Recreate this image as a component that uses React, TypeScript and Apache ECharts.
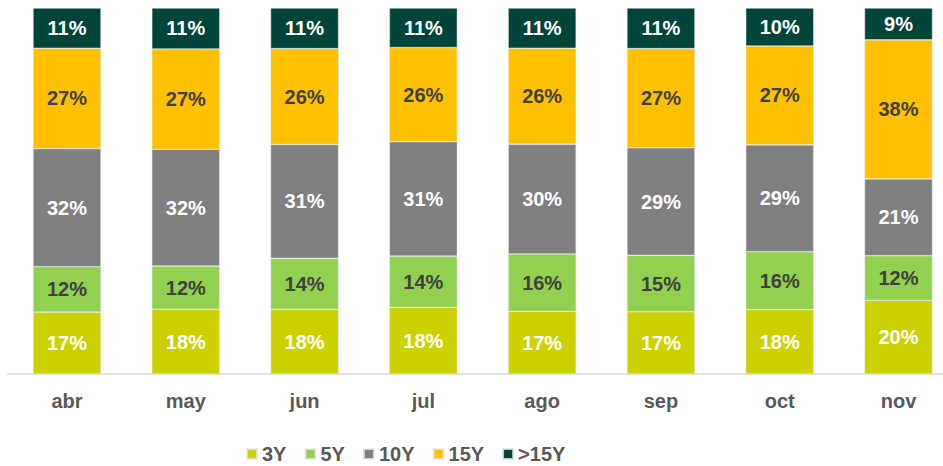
import React, { useEffect, useRef } from "react";
import * as echarts from "echarts";

const categories = ["abr", "may", "jun", "jul", "ago", "sep", "oct", "nov"];
const seriesNames = ["3Y", "5Y", "10Y", "15Y", ">15Y"];
const v3Y = [16.9, 17.7, 17.7, 18.2, 17.1, 17.0, 17.6, 20.1];
const v5Y = [12.4, 11.8, 13.9, 14.0, 15.7, 15.4, 15.8, 12.2];
const v10Y = [32.3, 31.9, 31.1, 31.3, 30.0, 29.4, 29.2, 21.0];
const v15Y = [27.4, 27.4, 26.2, 25.7, 26.2, 27.1, 27.0, 38.0];
const vOver15Y = [11.0, 11.2, 11.1, 10.8, 11.0, 11.1, 10.4, 8.7];

const colors = ["#CCD200", "#92D050", "#808080", "#FFC000", "#00443A"];
const labelColors = ["#ffffff", "#404040", "#ffffff", "#404040", "#ffffff"];
const FONT = "'Liberation Sans', Arial, Helvetica, sans-serif";

export default function App() {
  const ref = useRef<HTMLDivElement>(null);
  useEffect(() => {
    if (!ref.current) return;
    const chart = echarts.init(ref.current, null, { renderer: "svg" });
    const all = [v3Y, v5Y, v10Y, v15Y, vOver15Y];
    chart.setOption({
      animation: false,
      textStyle: { fontFamily: FONT },
      grid: { left: 7.6, top: 8, width: 950.3, bottom: 92, containLabel: false },
      legend: {
        left: 246,
        top: 444,
        padding: 0,
        itemWidth: 10,
        itemHeight: 10,
        itemGap: 18,
        icon: "rect",
        textStyle: { fontFamily: FONT, fontWeight: "bold", fontSize: 20, lineHeight: 20, color: "#595959" },
        data: seriesNames,
      },
      xAxis: {
        type: "category",
        data: categories,
        axisLine: { lineStyle: { color: "#d9d9d9", width: 1.5 } },
        axisTick: { show: false },
        axisLabel: { fontFamily: FONT, fontWeight: "bold", fontSize: 20, color: "#595959", margin: 17 },
      },
      yAxis: {
        type: "value",
        min: 0,
        max: 100,
        show: false,
      },
      series: all.map((d, i) => ({
        name: seriesNames[i],
        type: "bar",
        stack: "total",
        barWidth: 68,
        data: d,
        itemStyle: { color: colors[i], borderColor: "rgba(230,230,230,0.8)", borderWidth: 0.6 },
        label: {
          show: true,
          position: "inside",
          fontFamily: FONT,
          fontWeight: "bold",
          fontSize: 20,
          color: labelColors[i],
          formatter: (p: any) => Math.round(p.value) + "%",
        },
      })),
    });
    return () => chart.dispose();
  }, []);
  return (
    <div style={{ position: "fixed", left: 0, top: 0, width: 943, height: 466, overflow: "hidden", background: "#fff" }}>
      <div ref={ref} style={{ width: 966, height: 466 }} />
    </div>
  );
}
